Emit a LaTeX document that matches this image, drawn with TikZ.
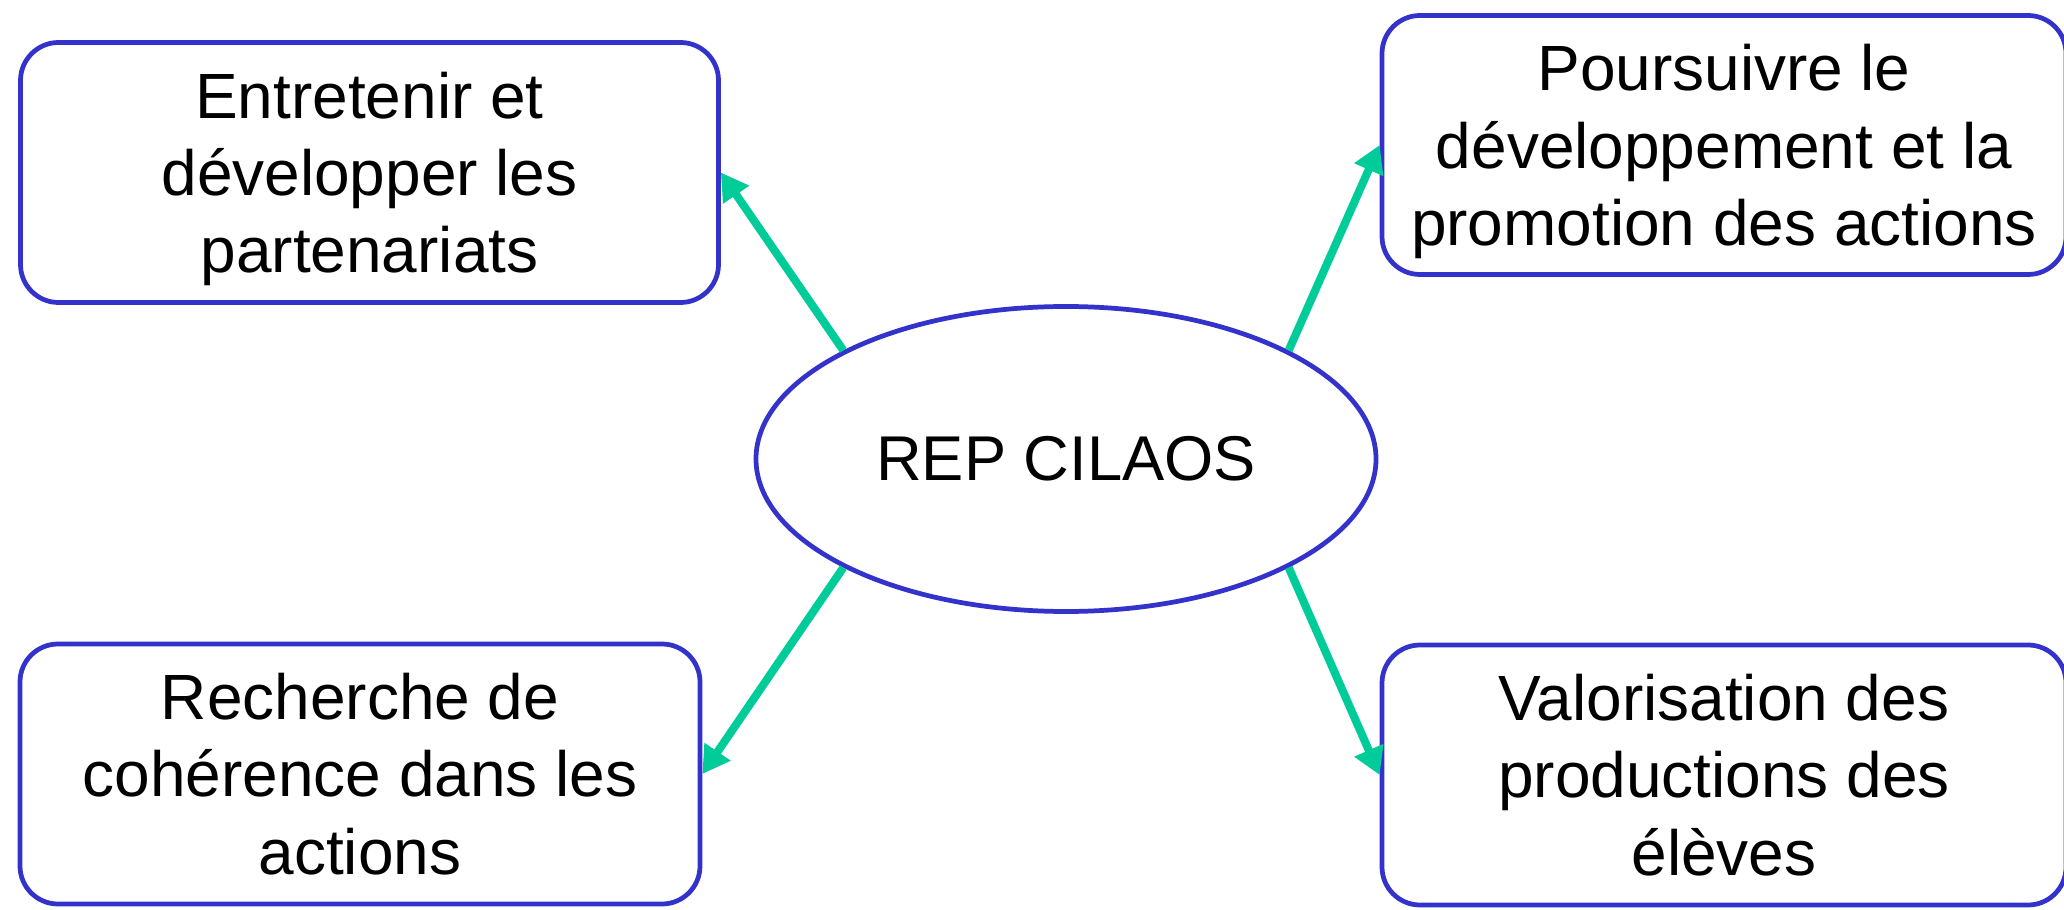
\documentclass[tikz,border=0pt]{standalone}
\usepackage{fontspec}
\setmainfont{Liberation Sans}
\usepackage{tikz}
\usetikzlibrary{shapes.geometric, arrows.meta}
\definecolor{boxblue}{RGB}{51,51,204}
\definecolor{arrowgreen}{RGB}{0,204,153}

\begin{document}
\begin{tikzpicture}[
	box/.style={draw=boxblue, line width=1.35pt, rounded corners=0.38cm, align=center, font=\fontsize{18.2}{22}\selectfont},
	hub/.style={draw=boxblue, line width=1.35pt, ellipse, inner sep=0pt, minimum width=6.2cm, minimum height=3.05cm, font=\fontsize{18}{22}\selectfont},
	link/.style={draw=arrowgreen, line width=2.3pt, -{Triangle[length=0.27cm, width=0.30cm]}}]
	\useasboundingbox (0,0) rectangle (20.64,9.09);
	\node(REP) [hub] at (10.66,4.50) {REP CILAOS};
	\node(Part) [box, minimum width=6.98cm, minimum height=2.60cm] at (3.695,7.365) {Entretenir et\\développer les\\\smash{partenariats}};
	\node(Promo) [box, minimum width=6.84cm, minimum height=2.59cm] at (17.24,7.64) {Poursuivre le\\développement et la\\\smash{promotion des actions}};
	\node(Coher) [box, minimum width=6.80cm, minimum height=2.60cm] at (3.60,1.35) {Recherche de\\cohérence dans les\\actions};
	\node(Valor) [box, minimum width=6.84cm, minimum height=2.60cm] at (17.24,1.34) {Valorisation des\\productions des\\élèves};

	\draw[link] (REP.154) -- (Part.east);
	\draw[link] (REP.26) -- (Promo.west);
	\draw[link] (REP.206) -- (Coher.east);
	\draw[link] (REP.334) -- (Valor.west);

\end{tikzpicture}
\end{document}
